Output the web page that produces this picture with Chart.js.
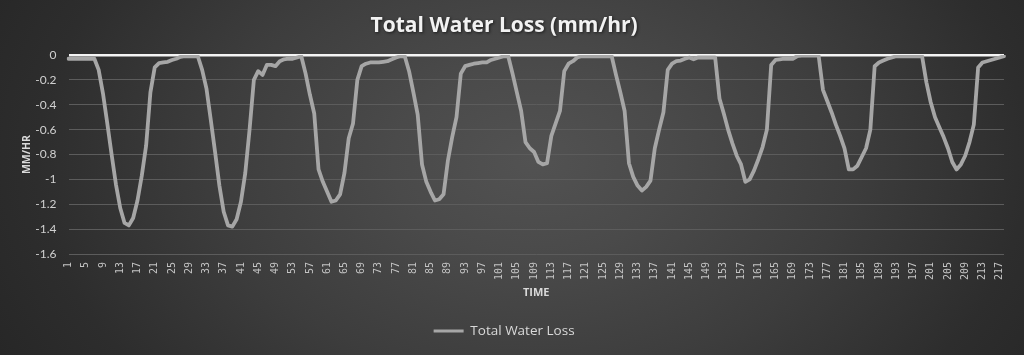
<!DOCTYPE html>
<html>
<head>
<meta charset="utf-8">
<script src="https://cdn.jsdelivr.net/npm/chart.js@4.4.1/dist/chart.umd.min.js"></script>
<style>
  html, body { margin: 0; padding: 0; }
  body { width: 1024px; height: 355px; overflow: hidden; }
  #wrap {
    width: 1024px; height: 355px; position: relative;
    background: radial-gradient(ellipse 62% 125% at 52% 45%, #525252 0%, #4a4a4a 22%, #3d3d3d 50%, #2d2d2d 78%, #252525 100%);
  }
  canvas { display: block; }
</style>
</head>
<body>
<div id="wrap"><canvas id="c" width="1024" height="355"></canvas></div>
<script>
const chartTitle = 'Total Water Loss (mm/hr)';
const seriesName = 'Total Water Loss';
const xAxisTitle = 'TIME';
const yAxisTitle = 'MM/HR';
const yTicks = [0, -0.2, -0.4, -0.6, -0.8, -1, -1.2, -1.4, -1.6];
const tickEvery = 4;

// hourly values (mm/hr)
const waterLoss = [
  -0.03, -0.03, -0.03, -0.03, -0.03, -0.03, -0.03, -0.12, -0.31, -0.55,
  -0.8, -1.04, -1.23, -1.35, -1.37, -1.31, -1.17, -0.97, -0.73, -0.3,
  -0.1, -0.065, -0.06, -0.055, -0.04, -0.03, -0.015, -0.01, -0.01, -0.01,
  -0.01, -0.12, -0.27, -0.52, -0.78, -1.05, -1.26, -1.37, -1.38, -1.32,
  -1.18, -0.95, -0.6, -0.2, -0.13, -0.16, -0.08, -0.08, -0.09, -0.05,
  -0.035, -0.03, -0.03, -0.02, -0.01, -0.15, -0.32, -0.47, -0.92, -1.02,
  -1.1, -1.18, -1.17, -1.12, -0.95, -0.67, -0.55, -0.2, -0.09, -0.07,
  -0.06, -0.06, -0.06, -0.055, -0.05, -0.035, -0.02, -0.01, -0.01, -0.13,
  -0.3, -0.48, -0.88, -1.02, -1.1, -1.17, -1.16, -1.12, -0.85, -0.66,
  -0.5, -0.15, -0.09, -0.08, -0.07, -0.065, -0.06, -0.06, -0.04, -0.03,
  -0.02, -0.01, -0.01, -0.15, -0.3, -0.45, -0.7, -0.75, -0.78, -0.86,
  -0.88, -0.87, -0.65, -0.55, -0.45, -0.13, -0.07, -0.05, -0.02, -0.01,
  -0.01, -0.01, -0.01, -0.01, -0.01, -0.01, -0.01, -0.16, -0.3, -0.45,
  -0.87, -0.98, -1.05, -1.09, -1.06, -1.01, -0.75, -0.6, -0.46, -0.12,
  -0.07, -0.05, -0.045, -0.03, -0.02, -0.035, -0.02, -0.02, -0.02, -0.02,
  -0.02, -0.35, -0.47, -0.6, -0.71, -0.81, -0.88, -1.02, -1.0, -0.93,
  -0.84, -0.74, -0.6, -0.08, -0.04, -0.035, -0.03, -0.03, -0.03, -0.01,
  -0.005, -0.005, -0.005, -0.005, -0.005, -0.28, -0.37, -0.46, -0.56, -0.65,
  -0.75, -0.92, -0.92, -0.89, -0.82, -0.75, -0.6, -0.09, -0.06, -0.045,
  -0.03, -0.02, -0.01, -0.01, -0.01, -0.01, -0.01, -0.01, -0.01, -0.22,
  -0.38, -0.5, -0.58, -0.66, -0.75, -0.86, -0.92, -0.88, -0.81, -0.7,
  -0.56, -0.1, -0.06, -0.05, -0.04, -0.03, -0.02, -0.01
];
const categories = waterLoss.map((_, i) => String(i + 1));

const lineColor = '#a6a6a6';

// soft shadow under the chart title only
const titleShadow = {
  id: 'titleShadow',
  beforeDraw(chart) {
    const t = chart.titleBlock;
    if (!t) return;
    const orig = t.draw.bind(t);
    if (t._shadowWrapped) return;
    t._shadowWrapped = true;
    t.draw = function () {
      const ctx = chart.ctx;
      ctx.save();
      ctx.shadowColor = 'rgba(0,0,0,0.6)';
      ctx.shadowBlur = 3;
      ctx.shadowOffsetX = 1;
      ctx.shadowOffsetY = 1.5;
      orig();
      ctx.restore();
    };
  }
};

new Chart(document.getElementById('c'), {
  type: 'line',
  data: {
    labels: categories,
    datasets: [{
      label: seriesName,
      data: waterLoss,
      borderColor: lineColor,
      backgroundColor: lineColor,
      borderWidth: 3.8,
      pointRadius: 0,
      pointHoverRadius: 0,
      tension: 0,
      borderJoinStyle: 'round',
      borderCapStyle: 'round',
      fill: false
    }]
  },
  plugins: [titleShadow],
  options: {
    responsive: false,
    animation: false,
    events: [],
    layout: { padding: { left: 0, right: 15.8, top: 0, bottom: 7.25 } },
    plugins: {
      title: {
        display: true,
        text: chartTitle,
        color: '#f2f2f2',
        font: { family: '"Open Sans"', size: 21, weight: 'bold', lineHeight: 1.2 },
        padding: { top: 13, bottom: 16.8 }
      },
      legend: {
        display: true,
        position: 'bottom',
        labels: {
          color: '#d9d9d9',
          font: { family: '"Open Sans"', size: 13.5 },
          boxWidth: 30,
          boxHeight: 3,
          padding: 10,
          generateLabels(chart) {
            const items = Chart.defaults.plugins.legend.labels.generateLabels(chart);
            items.forEach(it => { it.lineWidth = 0; it.fillStyle = lineColor; });
            return items;
          }
        }
      },
      tooltip: { enabled: false }
    },
    scales: {
      x: {
        type: 'category',
        offset: false,
        grid: { display: false, drawTicks: false },
        border: { display: false },
        ticks: {
          autoSkip: false,
          maxRotation: 90,
          minRotation: 90,
          padding: 8,
          color: '#c4c4c4',
          font: { family: '"DejaVu Sans Mono"', size: 10 },
          callback(value, index) {
            return index % tickEvery === 0 ? categories[index] : '';
          }
        },
        title: {
          display: true,
          text: xAxisTitle,
          color: '#d9d9d9',
          font: { family: '"Open Sans"', size: 11, weight: 'bold', lineHeight: 1.2 },
          padding: { top: 0, bottom: 14.65 }
        },
        afterFit(scale) { scale.height = 60.25; }
      },
      y: {
        min: -1.6,
        max: 0,
        afterBuildTicks(scale) { scale.ticks = yTicks.map(v => ({ value: v })); },
        grid: {
          drawTicks: false,
          color: ctx => (ctx.tick && ctx.tick.value === 0) ? '#f4f4f4' : '#5c5c5c',
          lineWidth: ctx => (ctx.tick && ctx.tick.value === 0) ? 2.5 : 1
        },
        border: { display: false },
        ticks: {
          padding: 12,
          color: '#d0d0d0',
          font: { family: 'Lato', size: 12 },
          callback(v) { return String(Math.round(v * 10) / 10); }
        },
        title: {
          display: true,
          text: yAxisTitle,
          color: '#d9d9d9',
          font: { family: '"Open Sans"', size: 10.5, weight: 'bold', lineHeight: 1.2 },
          padding: { top: 21, bottom: 0 }
        },
        afterFit(scale) { scale.width = 68.5; }
      }
    }
  }
});
</script>
</body>
</html>
